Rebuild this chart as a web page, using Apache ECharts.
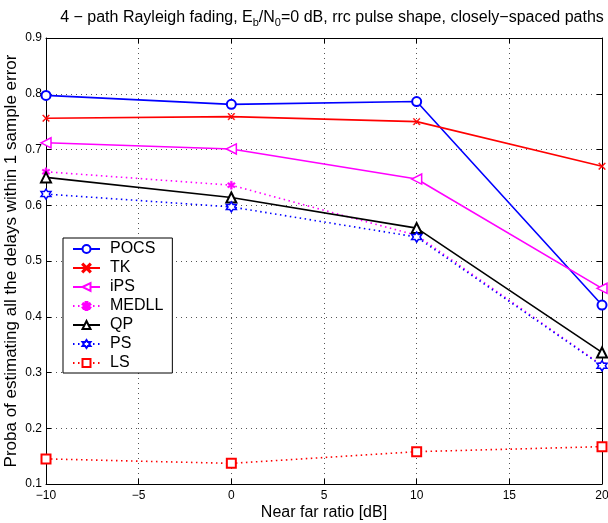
<!DOCTYPE html>
<html>
<head>
<meta charset="utf-8">
<script src="https://cdn.jsdelivr.net/npm/echarts@6/dist/echarts.min.js"></script>
<style>
  html, body { margin: 0; padding: 0; background: #fff; }
  #chart { width: 608px; height: 523px; }
</style>
</head>
<body>
<div id="chart"></div>
<script>
// near far ratio [dB]
var xValues = [-10, 0, 10, 20];
// proba of estimating all the delays within 1 sample error
var pocs = [0.797, 0.781, 0.786, 0.421];
var tk = [0.756, 0.759, 0.750, 0.670];
var ips = [0.712, 0.701, 0.647, 0.451];
var medll = [0.660, 0.636, 0.546, 0.313];
var qp = [0.650, 0.614, 0.559, 0.336];
var ps = [0.620, 0.597, 0.543, 0.312];
var ls = [0.145, 0.137, 0.158, 0.167];

var xTicks = [-10, -5, 0, 5, 10, 15, 20];
var yTicks = [0.1, 0.2, 0.3, 0.4, 0.5, 0.6, 0.7, 0.8, 0.9];

var FONT = '"Liberation Sans", Arial, sans-serif';

function pairs(ys) {
  return xValues.map(function (x, i) { return [x, ys[i]]; });
}

var myChart = echarts.init(document.getElementById('chart'));

var hexagram = 'path://M5,0L6.443,2.5L9.33,2.5L7.887,5L9.33,7.5L6.443,7.5L5,10L3.557,7.5L0.67,7.5L2.113,5L0.67,2.5L3.557,2.5Z';
var xMark = 'path://M0,1L1,0L5,4L9,0L10,1L6,5L10,9L9,10L5,6L1,10L0,9L4,5Z';
var leftTri = 'path://M0,5L10,0L10,10Z';
var star = 'path://M4,0L6,0L6,3L8.5,1.5L9.5,3.2L7,5L9.5,6.8L8.5,8.5L6,7L6,10L4,10L4,7L1.5,8.5L0.5,6.8L3,5L0.5,3.2L1.5,1.5L4,3Z';

function mkSeries(name, ys, color, lineType, symbol, size, empty) {
  return {
    name: name,
    type: 'line',
    data: pairs(ys),
    clip: false,
    symbol: symbol,
    symbolSize: size,
    showAllSymbol: true,
    lineStyle: { color: color, width: 1.6, type: lineType },
    itemStyle: empty
      ? { color: '#fff', borderColor: color, borderWidth: 1.5 }
      : { color: color, borderColor: color, borderWidth: 0.5 },
    emphasis: { disabled: true }
  };
}

var dots = [1.5, 3.5];

var option = {
  animation: false,
  backgroundColor: '#fff',
  title: {
    text: '{m|4 \u2212 path Rayleigh fading, E}{s|b}{m|/N}{s|0}{m|=0 dB, rrc pulse shape, closely\u2212spaced paths}',
    left: 327,
    top: 3,
    textAlign: 'center',
    textStyle: {
      fontWeight: 'normal',
      rich: {
        m: { fontFamily: FONT, fontSize: 16, fontWeight: 'normal', color: '#000', lineHeight: 19 },
        s: { fontFamily: FONT, fontSize: 11, fontWeight: 'normal', color: '#000', lineHeight: 19, padding: [11, 0, 0, 0] }
      }
    }
  },
  legend: {
    left: 63,
    top: 238,
    orient: 'vertical',
    backgroundColor: '#fff',
    borderColor: '#000',
    borderWidth: 1,
    padding: [3, 9, 2, 9],
    itemWidth: 27,
    itemHeight: 10,
    itemGap: 3,
    textStyle: { fontFamily: FONT, fontSize: 16, color: '#000', padding: [0, 0, 0, 5] },
    data: ['POCS', 'TK', 'iPS', 'MEDLL', 'QP', 'PS', 'LS']
  },
  grid: { left: 46, right: 6, top: 38, bottom: 39, outerBoundsMode: 'none', containLabel: false },
  xAxis: [
    {
      type: 'value',
      min: -10,
      max: 20,
      interval: 5,
      name: 'Near far ratio [dB]',
      nameLocation: 'middle',
      nameGap: 21,
      nameMoveOverlap: false,
      nameTextStyle: { fontFamily: FONT, fontSize: 16, color: '#000' },
      axisLine: { onZero: false, lineStyle: { color: '#000', width: 1 } },
      axisTick: { inside: true, length: 5, lineStyle: { color: '#000' } },
      axisLabel: {
        fontFamily: FONT, fontSize: 12, color: '#000', margin: 6,
        formatter: function (v) { return v < 0 ? '\u2212' + Math.abs(v) : String(v); }
      },
      splitLine: { show: true, lineStyle: { color: '#555', type: [1, 4], width: 1 } }
    },
    {
      type: 'value',
      position: 'top',
      min: -10,
      max: 20,
      interval: 5,
      axisLine: { onZero: false, lineStyle: { color: '#000', width: 1 } },
      axisTick: { inside: true, length: 5, lineStyle: { color: '#000' } },
      axisLabel: { show: false },
      splitLine: { show: false }
    }
  ],
  yAxis: [
    {
      type: 'value',
      min: 0.1,
      max: 0.9,
      interval: 0.1,
      name: 'Proba of estimating all the delays within 1 sample error',
      nameLocation: 'middle',
      nameGap: 26,
      nameMoveOverlap: false,
      nameTextStyle: { fontFamily: FONT, fontSize: 17, color: '#000' },
      axisLine: { onZero: false, lineStyle: { color: '#000', width: 1 } },
      axisTick: { inside: true, length: 5, lineStyle: { color: '#000' } },
      axisLabel: {
        fontFamily: FONT, fontSize: 12, color: '#000', margin: 4,
        formatter: function (v) { return v.toFixed(1); }
      },
      splitLine: { show: true, lineStyle: { color: '#555', type: [1, 4], width: 1 } }
    },
    {
      type: 'value',
      position: 'right',
      min: 0.1,
      max: 0.9,
      interval: 0.1,
      axisLine: { onZero: false, lineStyle: { color: '#000', width: 1 } },
      axisTick: { inside: true, length: 5, lineStyle: { color: '#000' } },
      axisLabel: { show: false },
      splitLine: { show: false }
    }
  ],
  series: [
    mkSeries('POCS', pocs, '#0000ff', 'solid', 'emptyCircle', 9, false),
    mkSeries('TK', tk, '#ff0000', 'solid', xMark, 7, false),
    mkSeries('iPS', ips, '#ff00ff', 'solid', leftTri, 10, true),
    mkSeries('MEDLL', medll, '#ff00ff', dots, star, 8, false),
    mkSeries('QP', qp, '#000000', 'solid', 'emptyTriangle', 10, false),
    mkSeries('PS', ps, '#0000ff', dots, hexagram, 10, true),
    mkSeries('LS', ls, '#ff0000', dots, 'emptyRect', 9, false)
  ]
};

myChart.setOption(option);
</script>
</body>
</html>
